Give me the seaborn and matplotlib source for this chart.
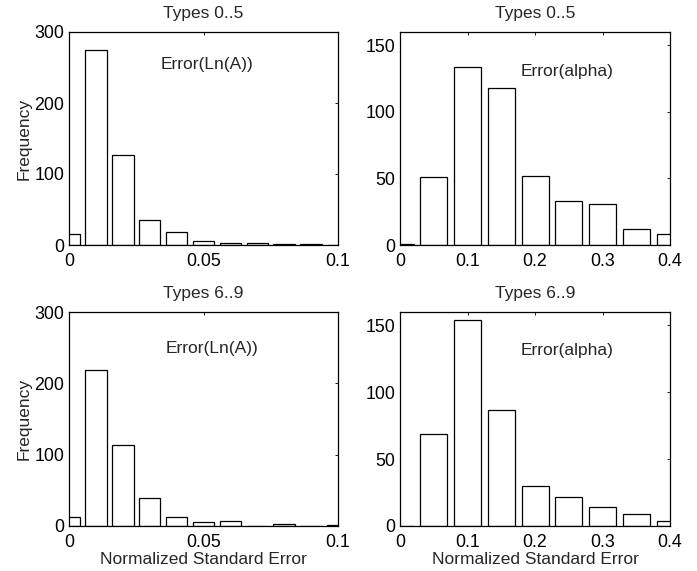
import numpy as np
import pandas as pd
import matplotlib
matplotlib.use("Agg")
import matplotlib.pyplot as plt
import seaborn as sns

sns.set_style("white")
plt.rcParams["font.family"] = ["Liberation Sans", "DejaVu Sans"]
FS = 12.5

# Bin centres (normalized standard error)
lnA_centers = [0.0, 0.01, 0.02, 0.03, 0.04, 0.05, 0.06, 0.07, 0.08, 0.09, 0.10]
alpha_centers = [0.0, 0.05, 0.10, 0.15, 0.20, 0.25, 0.30, 0.35, 0.40]

# Frequencies
lnA_types_0_5 = [15, 274, 127, 35, 19, 6, 3, 3, 2, 1, 0]
alpha_types_0_5 = [1, 51, 134, 118, 52, 33, 31, 12, 8]
lnA_types_6_9 = [13, 219, 114, 39, 13, 5, 7, 0, 3, 0, 1]
alpha_types_6_9 = [0, 69, 154, 87, 30, 22, 14, 9, 4]

titles = ["Types 0..5", "Types 0..5", "Types 6..9", "Types 6..9"]
labels = ["Error(Ln(A))", "Error(alpha)", "Error(Ln(A))", "Error(alpha)"]

panels = [
    (lnA_centers, lnA_types_0_5, 0.01, (0, 0.1), (0, 300), [0, 100, 200, 300], [0, 0.05, 0.1], ["0", "0.05", "0.1"], (0.034, 254)),
    (alpha_centers, alpha_types_0_5, 0.05, (0, 0.4), (0, 160), [0, 50, 100, 150], [0, 0.1, 0.2, 0.3, 0.4], ["0", "0.1", "0.2", "0.3", "0.4"], (0.179, 130)),
    (lnA_centers, lnA_types_6_9, 0.01, (0, 0.1), (0, 300), [0, 100, 200, 300], [0, 0.05, 0.1], ["0", "0.05", "0.1"], (0.036, 249)),
    (alpha_centers, alpha_types_6_9, 0.05, (0, 0.4), (0, 160), [0, 50, 100, 150], [0, 0.1, 0.2, 0.3, 0.4], ["0", "0.1", "0.2", "0.3", "0.4"], (0.178, 131)),
]

fig = plt.figure(figsize=(6.97, 5.71), dpi=100)
W, H = 697, 571
boxes = [(69, 32, 338, 245), (400, 32, 670, 245), (69, 312, 338, 526), (400, 312, 670, 526)]

for i, (centers, counts, bw, xl, yl, yt, xt, xtl, (tx, ty)) in enumerate(panels):
    x0, y0, x1, y1 = boxes[i]
    ax = fig.add_axes([x0 / W, 1 - y1 / H, (x1 - x0) / W, (y1 - y0) / H])
    df = pd.DataFrame({"x": centers, "w": counts})
    edges = [c - bw / 2 for c in centers] + [centers[-1] + bw / 2]
    sns.histplot(data=df, x="x", weights="w", bins=edges, shrink=0.8,
                 color="white", edgecolor="black", linewidth=0.9, alpha=1,
                 ax=ax)
    ax.set_xlim(*xl)
    ax.set_ylim(*yl)
    ax.set_xticks(xt)
    ax.set_xticklabels(xtl)
    ax.set_yticks(yt)
    ax.tick_params(direction="in", length=2, width=0.6, top=True, right=True,
                   labelsize=FS + 0.3, colors="black")
    ax.tick_params(axis="x", pad=5.5)
    ax.tick_params(axis="y", pad=3.5)
    for s in ax.spines.values():
        s.set_visible(True)
        s.set_color("black")
        s.set_linewidth(0.9)
    ax.set_title(titles[i], fontsize=FS, pad=10)
    ax.text(tx, ty, labels[i], fontsize=FS, va="center", ha="left")
    ax.set_ylabel("Frequency" if i % 2 == 0 else "", fontsize=FS, labelpad=2)
    ax.set_xlabel("Normalized Standard Error" if i >= 2 else "", fontsize=FS, labelpad=1)

fig.savefig("out.png", dpi=100, facecolor="white")
